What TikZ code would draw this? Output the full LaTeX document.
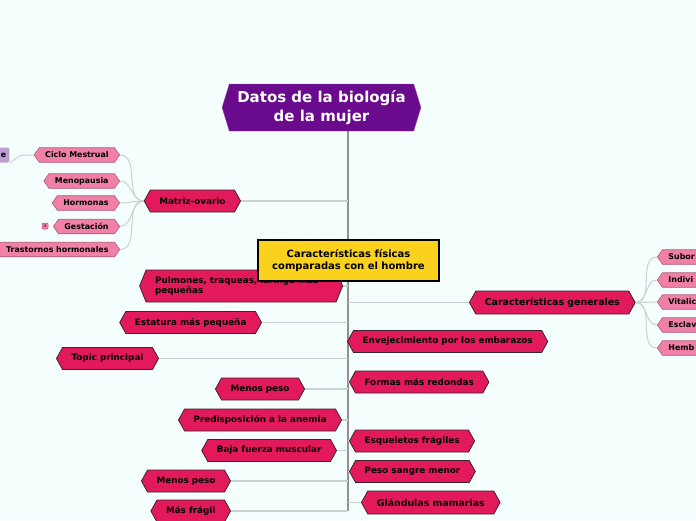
\documentclass[tikz,border=0pt]{standalone}
\usepackage{fontspec}
\setmainfont{DejaVu Sans}
\usetikzlibrary{positioning, shapes.symbols}

\definecolor{bgmint}{RGB}{244,254,252}
\definecolor{rootpurple}{RGB}{106,10,140}
\definecolor{topicred}{RGB}{226,26,92}
\definecolor{subpink}{RGB}{241,128,168}
\definecolor{floatyellow}{RGB}{250,210,30}
\definecolor{edgedark}{RGB}{60,35,45}
\definecolor{edgepink}{RGB}{175,90,120}
\definecolor{branchgray}{RGB}{200,210,210}
\definecolor{trunkgray}{RGB}{145,145,145}
\definecolor{nextpurple}{RGB}{188,158,212}

\pgfdeclarelayer{background}
\pgfsetlayers{background,main}

\begin{document}
\begin{tikzpicture}[
    x=1pt, y=-1pt,
    hexa/.style={shape=signal, signal to=west and east, draw},
    rootbox/.style={hexa, fill=rootpurple, draw=rootpurple!70!white, text=white, font=\fontsize{15}{19}\selectfont\bfseries, align=center, minimum height=47pt, inner xsep=8pt, signal pointer angle=146},
    floatbox/.style={rectangle, fill=floatyellow, draw=black, line width=1.6pt, font=\fontsize{10}{12}\selectfont\bfseries, align=center, minimum width=181pt, minimum height=41pt},
    topicbox/.style={hexa, fill=topicred, draw=edgedark, line width=0.8pt, font=\fontsize{8.8}{10.5}\selectfont\bfseries, minimum height=22pt, inner xsep=9pt, signal pointer angle=122},
    bigtopic/.style={topicbox, font=\fontsize{9.4}{11}\selectfont\bfseries, minimum height=23pt},
    subbox/.style={hexa, fill=subpink, draw=edgepink, line width=0.6pt, font=\fontsize{7.9}{9}\selectfont\bfseries, minimum height=14.5pt, inner xsep=6pt, signal pointer angle=110},
    badge/.style={rectangle, rounded corners=1pt, fill=subpink, draw=edgepink, line width=0.5pt, font=\fontsize{4}{4}\selectfont, inner sep=0.8pt, minimum size=6pt},
    nextbox/.style={rectangle, rounded corners=1.5pt, fill=nextpurple, font=\fontsize{7.9}{9}\selectfont\bfseries, minimum height=15pt, inner xsep=3pt},
    branch/.style={draw=branchgray, line width=1.4pt},
    twig/.style={draw=branchgray, line width=1pt},
    trunk/.style={draw=trunkgray, line width=1.8pt}
]
    \useasboundingbox (0,0) rectangle (696,520);
    \begin{pgfonlayer}{background}
        \fill[bgmint] (0,0) rectangle (696,520);
    \end{pgfonlayer}

    % root and trunk
    \node[rootbox] (root) at (321.5,107.5) {Datos de la biología\\de la mujer};
    \coordinate (trunktop) at (348,131);
    \coordinate (trunkend) at (348,511);

    % topics on the left
    \node[topicbox, anchor=east] (matriz) at (241,201) {Matriz-ovario};
    \node[topicbox, anchor=east, align=left, text width=172pt, minimum height=32pt, signal pointer angle=136] (pulmones) at (343,286) {Pulmones, traqueas, laringe más\\pequeñas};
    \node[topicbox, anchor=east] (estatura) at (262,322.5) {Estatura más pequeña};
    \node[topicbox, anchor=east] (topicp) at (159,358.5) {Topic principal};
    \node[topicbox, anchor=east] (menos1) at (305,389) {Menos peso};
    \node[topicbox, anchor=east] (anemia) at (342,420) {Predisposición a la anemia};
    \node[topicbox, anchor=east] (fuerza) at (337,450.5) {Baja fuerza muscular};
    \node[topicbox, anchor=east] (menos2) at (231,481) {Menos peso};
    \node[topicbox, anchor=east] (fragil) at (231,511) {Más frágil};

    % topics on the right
    \node[bigtopic, anchor=west] (generales) at (469,302.5) {Características generales};
    \node[topicbox, anchor=west] (envejec) at (347,341.5) {Envejecimiento por los embarazos};
    \node[topicbox, anchor=west] (formas) at (349,382) {Formas más redondas};
    \node[topicbox, anchor=west] (esqueletos) at (349,441) {Esqueletos frágiles};
    \node[topicbox, anchor=west] (sangre) at (349,471.5) {Peso sangre menor};
    \node[bigtopic, anchor=west] (glandulas) at (361,502.5) {Glándulas mamarias};

    % floating topic
    \node[floatbox] (fisicas) at (348.5,260.5) {Características físicas\\comparadas con el hombre};

    % subtopics of Matriz-ovario
    \node[subbox, anchor=east] (ciclo) at (120,155) {Ciclo Mestrual};
    \node[subbox, anchor=east] (menopausia) at (120,181) {Menopausia};
    \node[subbox, anchor=east] (hormonas) at (120,203) {Hormonas};
    \node[subbox, anchor=east] (gestacion) at (120,226.5) {Gestación};
    \node[subbox, anchor=east] (trastornos) at (120,249.5) {Trastornos hormonales};
    \node[badge] (gestnum) at (45,226) {4};
    \node[nextbox, anchor=east] (cicloe) at (9.5,155) {e};

    % subtopics of Características generales
    \foreach \n/\t/\y in {subor/Subor/257, indivi/Indivi/280, vitalic/Vitalic/302, esclav/Esclav/325, hemb/Hemb/348}
        \node[subbox, anchor=west, text width=60pt, align=left] (\n) at (657,\y) {\t};

    \begin{pgfonlayer}{background}
        \draw[trunk] (trunktop) -- (trunkend);
        \foreach \n in {matriz, pulmones, estatura, topicp, menos1, anemia, fuerza, menos2}
            \draw[branch] (\n.east) -- (\n.east -| trunktop);
        \draw[branch] (fragil.east) -- (trunkend);
        \foreach \n in {generales, envejec, formas, esqueletos, sangre, glandulas}
            \draw[branch] (\n.west -| trunktop) -- (\n.west);
        \foreach \n in {ciclo, menopausia, hormonas, gestacion, trastornos}
            \draw[twig] (matriz.west) to[out=180, in=0] (\n.east);
        \foreach \n in {subor, indivi, vitalic, esclav, hemb}
            \draw[twig] (generales.east) to[out=0, in=180] (\n.west);
        \draw[twig] (ciclo.west) -- +(-10,0) to[out=180, in=20] (cicloe.south east);
    \end{pgfonlayer}
\end{tikzpicture}
\end{document}
